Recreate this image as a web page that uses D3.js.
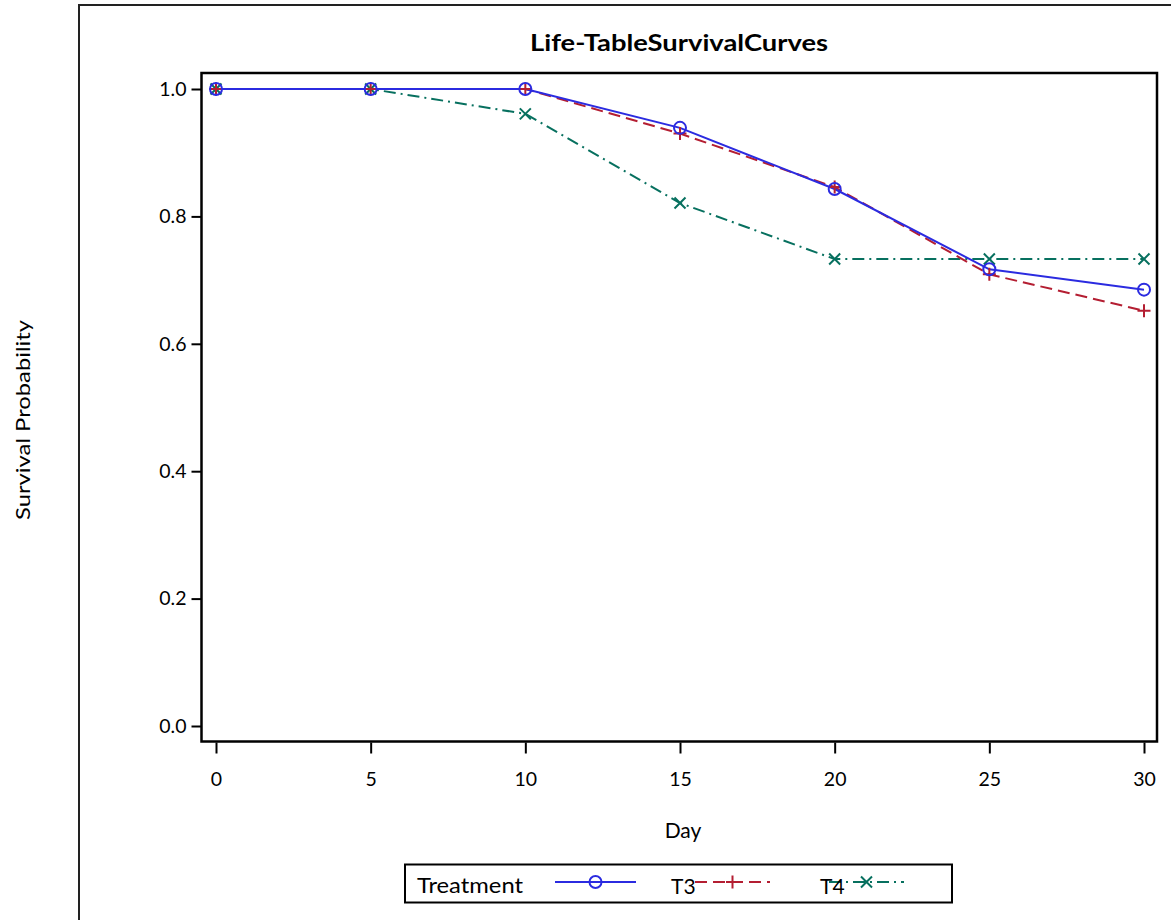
<!DOCTYPE html>
<html>
<head>
<meta charset="utf-8">
<script src="https://cdn.jsdelivr.net/npm/d3@7"></script>
<style>
  body { margin: 0; background: #fff; }
  svg { display: block; font-family: Lato, "Open Sans", sans-serif; }
</style>
</head>
<body>
<svg id="chart" width="1171" height="920"></svg>
<script>
// values
const days = [0, 5, 10, 15, 20, 25, 30];
const yTicks = [0.0, 0.2, 0.4, 0.6, 0.8, 1.0];
const blueSurv = [1.0, 1.0, 1.0, 0.939, 0.843, 0.717, 0.685];
const redSurv = [1.0, 1.0, 1.0, 0.930, 0.846, 0.709, 0.652];
const greenSurv = [1.0, 1.0, 0.961, 0.821, 0.733, 0.733, 0.733];
const legendLabels = ["T3", "T4", ""];

const svg = d3.select("#chart");

// frame of the plot area
const frame = {left: 201.5, right: 1157, top: 73, bottom: 741.5};

const x = d3.scaleLinear().domain([0, 30]).range([216, 1144]);
const y = d3.scaleLinear().domain([0, 1]).range([726, 89]);

// outer border (runs off the right and bottom of the picture)
svg.append("rect")
  .attr("x", 79).attr("y", 5)
  .attr("width", 1200).attr("height", 1000)
  .attr("fill", "none").attr("stroke", "#222").attr("stroke-width", 2);

svg.append("text")
  .attr("x", 679).attr("y", 51)
  .attr("text-anchor", "middle")
  .attr("font-weight", "bold").attr("font-size", 22)
  .attr("textLength", 298).attr("lengthAdjust", "spacingAndGlyphs")
  .text("Life-TableSurvivalCurves");

// axes
let xAxis = d3.axisBottom(x).tickValues(days).tickSize(11).tickSizeOuter(0);
let gx = svg.append("g")
  .attr("transform", `translate(0, ${frame.bottom + 1})`)
  .call(xAxis);
gx.select(".domain").remove();
gx.selectAll("line").attr("stroke", "#000").attr("stroke-width", 2);
gx.selectAll("text")
  .attr("y", 43).attr("dy", 0)
  .attr("font-size", 19.5).attr("font-family", "Lato, sans-serif")
  .attr("fill", "#000");

let yAxis = d3.axisLeft(y).tickValues(yTicks).tickFormat(d3.format(".1f")).tickSize(10).tickPadding(5);
let gy = svg.append("g")
  .attr("transform", `translate(${frame.left}, 0)`)
  .call(yAxis);
gy.select(".domain").remove();
gy.selectAll("line").attr("stroke", "#000").attr("stroke-width", 2);
gy.selectAll("text")
  .attr("font-size", 19.5).attr("font-family", "Lato, sans-serif")
  .attr("fill", "#000");

svg.append("rect")
  .attr("x", frame.left).attr("y", frame.top)
  .attr("width", frame.right - frame.left)
  .attr("height", frame.bottom - frame.top)
  .attr("fill", "none").attr("stroke", "#000").attr("stroke-width", 2.5);

svg.append("text")
  .attr("x", 683).attr("y", 838)
  .attr("text-anchor", "middle").attr("font-size", 21)
  .text("Day");

svg.append("text")
  .attr("transform", "translate(30, 420) rotate(-90)")
  .attr("text-anchor", "middle").attr("font-size", 20)
  .attr("textLength", 200).attr("lengthAdjust", "spacingAndGlyphs")
  .text("Survival Probability");

// marker shapes
function drawMarker(g, kind, cx, cy, color) {
  if (kind === "circle") {
    g.append("circle").attr("cx", cx).attr("cy", cy).attr("r", 6)
      .attr("fill", "none").attr("stroke", color).attr("stroke-width", 2);
  } else if (kind === "plus") {
    g.append("path").attr("d", `M${cx - 6.5},${cy}H${cx + 6.5}M${cx},${cy - 6.5}V${cy + 6.5}`)
      .attr("stroke", color).attr("stroke-width", 2);
  } else {
    g.append("path").attr("d", `M${cx - 5.5},${cy - 5.5}L${cx + 5.5},${cy + 5.5}M${cx - 5.5},${cy + 5.5}L${cx + 5.5},${cy - 5.5}`)
      .attr("stroke", color).attr("stroke-width", 2);
  }
}

const series = [
  {vals: blueSurv, color: "#2B2BE0", dash: null, marker: "circle"},
  {vals: redSurv, color: "#B41E32", dash: "12,6", marker: "plus"},
  {vals: greenSurv, color: "#07705F", dash: "12,5,2,5", marker: "x"}
];

let line = d3.line().x((d, i) => x(days[i])).y(d => y(d));

// draw back to front so blue sits on top like the reference
series.slice().reverse().forEach(s => {
  svg.append("path")
    .datum(s.vals)
    .attr("d", line)
    .attr("fill", "none")
    .attr("stroke", s.color)
    .attr("stroke-width", 2)
    .attr("stroke-dasharray", s.dash);
});
series.slice().reverse().forEach(s => {
  let g = svg.append("g");
  s.vals.forEach((v, i) => drawMarker(g, s.marker, x(days[i]), y(v), s.color));
});

// legend
let lg = svg.append("g");
lg.append("rect")
  .attr("x", 405).attr("y", 864.5)
  .attr("width", 547).attr("height", 38)
  .attr("fill", "#fff").attr("stroke", "#000").attr("stroke-width", 2);
lg.append("text")
  .attr("x", 417).attr("y", 893).attr("font-size", 21)
  .attr("textLength", 106).attr("lengthAdjust", "spacingAndGlyphs")
  .text("Treatment");

const legendX = [555, 695, 829];
series.forEach((s, i) => {
  let x0 = legendX[i], x1 = x0 + (i === 0 ? 81 : 75);
  lg.append("path")
    .attr("d", `M${x0},882H${x1}`)
    .attr("stroke", s.color).attr("stroke-width", 2)
    .attr("stroke-dasharray", s.dash);
  drawMarker(lg, s.marker, (x0 + x1) / 2, 882, s.color);
});
// labels sit just left of the next sample, as in the reference
legendLabels.forEach((t, i) => {
  if (!t) return;
  lg.append("text")
    .attr("x", [671, 820][i]).attr("y", 894).attr("font-size", 21)
    .text(t);
});
</script>
</body>
</html>
